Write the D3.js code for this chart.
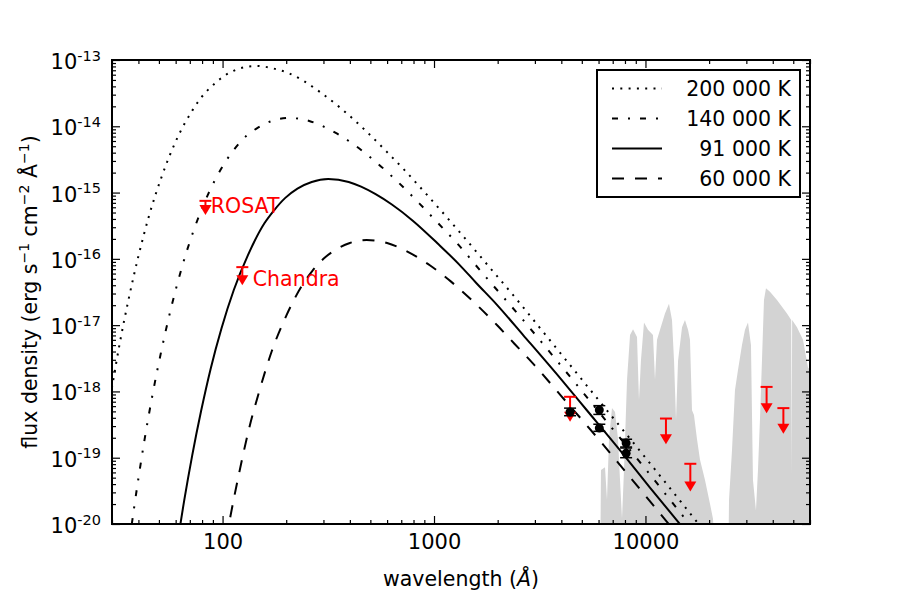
<!DOCTYPE html>
<html>
<head>
<meta charset="utf-8">
<script src="https://cdn.jsdelivr.net/npm/d3@7"></script>
<style>
  body { margin: 0; background: #fff; }
  svg text { font-family: "DejaVu Sans", sans-serif; }
</style>
</head>
<body>
<div id="chart"></div>
<script>
// blackbody curves (wavelength in Angstrom, log10 flux)
const wave200 = [24, 26.6, 30, 32.7, 36, 40, 45, 51.4, 60, 72, 80, 90, 103, 120, 144, 180, 206, 240, 288, 360, 480, 600, 720, 900, 1200, 1800, 2400, 3600, 4800, 7200, 10300, 14400, 20600];
const logF200 = [-20.06, -18.99, -17.94, -17.26, -16.60, -15.96, -15.34, -14.77, -14.23, -13.76, -13.55, -13.38, -13.23, -13.13, -13.09, -13.14, -13.20, -13.31, -13.48, -13.72, -14.08, -14.39, -14.65, -14.99, -15.44, -16.10, -16.57, -17.26, -17.75, -18.44, -19.05, -19.63, -20.25];

const wave140 = [34.3, 38.1, 42.8, 46.7, 51.4, 57.1, 64.2, 73.4, 85.6, 103, 114, 128, 147, 171, 206, 257, 294, 343, 411, 514, 685, 856, 1030, 1290, 1710, 2570, 3430, 5140, 6850, 10300, 14700, 20600];
const logF140 = [-20.84, -19.77, -18.72, -18.04, -17.38, -16.74, -16.13, -15.55, -15.02, -14.54, -14.34, -14.16, -14.02, -13.92, -13.875, -13.92, -13.99, -14.10, -14.26, -14.50, -14.86, -15.17, -15.44, -15.77, -16.23, -16.88, -17.36, -18.04, -18.53, -19.22, -19.84, -20.42];

const wave91 = [58.6, 65.9, 71.9, 79.1, 87.8, 98.8, 113, 132, 158, 176, 198, 226, 264, 316, 395, 452, 527, 632, 791, 1050, 1320, 1580, 1980, 2640, 3950, 5270, 7910, 10500, 15800];
const logF91 = [-20.69, -19.64, -18.96, -18.30, -17.66, -17.05, -16.47, -15.94, -15.46, -15.26, -15.08, -14.94, -14.84, -14.795, -14.84, -14.91, -15.02, -15.18, -15.42, -15.78, -16.09, -16.36, -16.69, -17.15, -17.80, -18.28, -18.96, -19.45, -20.14];

const wave60 = [88.8, 99.9, 109, 120, 133, 150, 171, 200, 240, 266, 300, 343, 400, 480, 600, 685, 799, 959, 1200, 1600, 2000, 2400, 3000, 4000, 6000, 7990, 12000, 16000];
const logF60 = [-21.61, -20.56, -19.88, -19.22, -18.58, -17.97, -17.39, -16.86, -16.38, -16.18, -16.00, -15.86, -15.76, -15.715, -15.76, -15.83, -15.94, -16.10, -16.34, -16.70, -17.01, -17.28, -17.61, -18.07, -18.72, -19.20, -19.88, -20.37];

const seriesLabels = ["200 000 K", "140 000 K", "91 000 K", "60 000 K"];

// grey spectrum in the background
const skyWave = [6095, 6162, 6437, 6579, 6723, 6946, 7178, 7417, 7580, 7746, 7917, 8181, 8453, 8735, 9120, 9320, 9526, 9842, 10280, 10855, 11095, 11340, 11720, 12370, 12920, 13350, 13650, 13950, 14260, 14890, 15380, 15900, 16240, 16600, 16960, 17530, 18110, 19120, 20200, 20860, 22030, 24570, 24840, 25660, 26510, 27390, 28610, 29560, 30540, 31550, 32240, 33310, 34050, 34790, 35560, 36350, 37150, 38800, 41880, 46700, 48900, 49100, 49400, 52070, 55590, 58700, 60000];
const skyFlux = [1e-21, 6.5e-20, 7.2e-20, 2.3e-20, 1.9e-19, 5.6e-19, 4.9e-19, 1.9e-19, 4.6e-20, 1.2e-20, 6.5e-20, 1.5e-18, 7.1e-18, 8.7e-18, 6.6e-18, 7.4e-19, 3.0e-18, 1.1e-17, 8.5e-18, 7.1e-18, 1.5e-18, 6.0e-18, 8.5e-18, 1.5e-17, 2.1e-17, 1.2e-17, 2.9e-18, 3.7e-19, 2.9e-18, 9.3e-18, 1.2e-17, 8.5e-18, 6.0e-18, 5.2e-19, 4.4e-19, 1.9e-19, 9.3e-20, 4.6e-20, 2.0e-20, 1.2e-20, 1e-21, 1e-21, 2.3e-20, 1.3e-19, 1.05e-18, 2.1e-18, 5.0e-18, 8.5e-18, 1.1e-17, 5.0e-18, 4.6e-20, 1.6e-20, 6.5e-20, 3.7e-19, 2.9e-18, 2.4e-17, 3.6e-17, 3.2e-17, 2.4e-17, 1.5e-17, 1.2e-17, 5.2e-20, 1.2e-17, 9.3e-18, 6.0e-18, 2.3e-18, 2.1e-18];

// optical detections with error bars
const detWave = [4400, 6050, 6050, 8100, 8100];
const detFlux = [4.9e-19, 5.25e-19, 2.8e-19, 1.66e-19, 1.17e-19];
const detLo = [4.3e-19, 4.5e-19, 2.5e-19, 1.4e-19, 1.0e-19];
const detHi = [5.6e-19, 6.1e-19, 3.2e-19, 1.9e-19, 1.45e-19];

// upper limits (cap value and arrow tip)
const limWave = [83, 124, 4400, 12500, 16300, 37400, 44900];
const limCap = [7.5e-16, 7.5e-17, 8.3e-19, 3.9e-19, 8.1e-20, 1.17e-18, 5.6e-19];
const limTip = [4.6e-16, 4.0e-17, 3.5e-19, 1.6e-19, 3.1e-20, 4.7e-19, 2.3e-19];

// annotations
const noteText = ["ROSAT", "Chandra"];
const noteWave = [88, 139];
const noteFlux = [4.9e-16, 3.9e-17];

const xMajor = [100, 1000, 10000];
const yExp = [-20, -19, -18, -17, -16, -15, -14, -13];

const W = 900, H = 600;
const L = 112, R = 810, T = 60, B = 524;

const svg = d3.select("#chart").append("svg")
    .attr("width", W)
    .attr("height", H);

const x = d3.scaleLog().domain([30, 60000]).range([L, R]);
const y = d3.scaleLog().domain([1e-20, 1e-13]).range([B, T]);

svg.append("clipPath").attr("id", "plotclip")
  .append("rect")
    .attr("x", L).attr("y", T)
    .attr("width", R - L).attr("height", B - T);

const plot = svg.append("g").attr("clip-path", "url(#plotclip)");

// grey spectrum
const sky = skyWave.map((w, i) => [w, skyFlux[i]]);
plot.append("path")
    .datum(sky)
    .attr("fill", "#d3d3d3")
    .attr("stroke", "none")
    .attr("d", d3.area()
        .x(d => x(d[0]))
        .y0(y(1e-21))
        .y1(d => y(d[1])));

// blackbody curves
const curves = [
  {wave: wave200, logF: logF200, dash: "2,6.3"},
  {wave: wave140, logF: logF140, dash: "6,10,2,10"},
  {wave: wave91, logF: logF91, dash: null},
  {wave: wave60, logF: logF60, dash: "12,11"}
];

const line = d3.line()
    .x(d => x(d[0]))
    .y(d => y(d[1]))
    .curve(d3.curveMonotoneX);

curves.forEach(c => {
  const pts = c.wave.map((w, i) => [w, Math.pow(10, c.logF[i])]);
  plot.append("path")
      .datum(pts)
      .attr("fill", "none")
      .attr("stroke", "black")
      .attr("stroke-width", 2)
      .attr("stroke-dasharray", c.dash)
      .attr("d", line);
});

// upper limits
const lims = limWave.map((w, i) => ({w: w, cap: limCap[i], tip: limTip[i]}));
const limG = plot.append("g").attr("fill", "red").attr("stroke", "red");
limG.selectAll(".stem").data(lims).enter().append("line")
    .attr("x1", d => x(d.w)).attr("x2", d => x(d.w))
    .attr("y1", d => y(d.cap)).attr("y2", d => y(d.tip) - 5)
    .attr("stroke-width", 2);
limG.selectAll(".cap").data(lims).enter().append("line")
    .attr("x1", d => x(d.w) - 6).attr("x2", d => x(d.w) + 6)
    .attr("y1", d => y(d.cap)).attr("y2", d => y(d.cap))
    .attr("stroke-width", 2);
limG.selectAll(".head").data(lims).enter().append("path")
    .attr("stroke", "none")
    .attr("d", d => {
      const cx = x(d.w), ty = y(d.tip);
      return `M${cx - 6},${ty - 10}L${cx + 6},${ty - 10}L${cx},${ty}Z`;
    });

// detections
const dets = detWave.map((w, i) => ({w: w, f: detFlux[i], lo: detLo[i], hi: detHi[i]}));
const detG = plot.append("g").attr("stroke", "black").attr("stroke-width", 1.5);
detG.selectAll(".bar").data(dets).enter().append("line")
    .attr("x1", d => x(d.w)).attr("x2", d => x(d.w))
    .attr("y1", d => y(d.lo)).attr("y2", d => y(d.hi));
detG.selectAll(".capLo").data(dets).enter().append("line")
    .attr("x1", d => x(d.w) - 6).attr("x2", d => x(d.w) + 6)
    .attr("y1", d => y(d.lo)).attr("y2", d => y(d.lo));
detG.selectAll(".capHi").data(dets).enter().append("line")
    .attr("x1", d => x(d.w) - 6).attr("x2", d => x(d.w) + 6)
    .attr("y1", d => y(d.hi)).attr("y2", d => y(d.hi));
detG.selectAll("circle").data(dets).enter().append("circle")
    .attr("cx", d => x(d.w)).attr("cy", d => y(d.f))
    .attr("r", 4.5)
    .attr("fill", "black")
    .attr("stroke", "none");

// annotations
svg.selectAll(".note").data(noteText).enter().append("text")
    .attr("x", (d, i) => x(noteWave[i]))
    .attr("y", (d, i) => y(noteFlux[i]))
    .attr("fill", "red")
    .style("font-size", "20.5px")
    .text(d => d);

// ticks (matplotlib classic: inward, all four sides)
const xMinor = [];
[10, 100, 1000, 10000].forEach(dec => {
  for (let k = 2; k <= 9; k++) {
    const v = k * dec;
    if (v >= 30 && v <= 60000) xMinor.push(v);
  }
});
const yMajor = yExp.map(e => Math.pow(10, e));
const yMinor = [];
yExp.slice(0, -1).forEach(e => {
  for (let k = 2; k <= 9; k++) yMinor.push(k * Math.pow(10, e));
});

function styleAxis(g) {
  g.select(".domain").remove();
  g.selectAll(".tick line").attr("stroke", "black").attr("stroke-width", 1.2);
  g.selectAll("text").style("font-size", "21px").attr("fill", "black");
}

svg.append("g").attr("transform", `translate(0,${B})`)
    .call(d3.axisBottom(x).tickValues(xMajor).tickSize(-8).tickPadding(10).tickFormat(d3.format("d")))
    .call(styleAxis);
svg.append("g").attr("transform", `translate(0,${B})`)
    .call(d3.axisBottom(x).tickValues(xMinor).tickSize(-4).tickFormat(""))
    .call(styleAxis);
svg.append("g").attr("transform", `translate(0,${T})`)
    .call(d3.axisTop(x).tickValues(xMajor).tickSize(-8).tickFormat(""))
    .call(styleAxis);
svg.append("g").attr("transform", `translate(0,${T})`)
    .call(d3.axisTop(x).tickValues(xMinor).tickSize(-4).tickFormat(""))
    .call(styleAxis);
svg.append("g").attr("transform", `translate(${L},0)`)
    .call(d3.axisLeft(y).tickValues(yMajor).tickSize(-8).tickFormat(""))
    .call(styleAxis);
svg.append("g").attr("transform", `translate(${L},0)`)
    .call(d3.axisLeft(y).tickValues(yMinor).tickSize(-4).tickFormat(""))
    .call(styleAxis);
svg.append("g").attr("transform", `translate(${R},0)`)
    .call(d3.axisRight(y).tickValues(yMajor).tickSize(-8).tickFormat(""))
    .call(styleAxis);
svg.append("g").attr("transform", `translate(${R},0)`)
    .call(d3.axisRight(y).tickValues(yMinor).tickSize(-4).tickFormat(""))
    .call(styleAxis);

// y tick labels 10^n
const yLab = svg.selectAll(".ylab").data(yExp).enter().append("text")
    .attr("x", 101)
    .attr("y", d => y(Math.pow(10, d)) + 9)
    .attr("text-anchor", "end")
    .style("font-size", "21px");
yLab.append("tspan").text("10");
yLab.append("tspan").attr("dy", -8.5).style("font-size", "14.5px").text(d => d);

// frame
svg.append("rect")
    .attr("x", L).attr("y", T)
    .attr("width", R - L).attr("height", B - T)
    .attr("fill", "none")
    .attr("stroke", "black")
    .attr("stroke-width", 2);

// axis labels
const xl = svg.append("text")
    .attr("x", (L + R) / 2).attr("y", 586)
    .attr("text-anchor", "middle")
    .style("font-size", "20.5px");
xl.append("tspan").text("wavelength (");
xl.append("tspan").style("font-style", "italic").text("Å");
xl.append("tspan").text(")");

const yl = svg.append("text")
    .attr("transform", `translate(37,${(T + B) / 2}) rotate(-90)`)
    .attr("text-anchor", "middle")
    .style("font-size", "20.5px");
yl.append("tspan").text("flux density (erg s");
yl.append("tspan").attr("dy", -8).style("font-size", "14px").text("−1");
yl.append("tspan").attr("dy", 8).text(" cm");
yl.append("tspan").attr("dy", -8).style("font-size", "14px").text("−2");
yl.append("tspan").attr("dy", 8).text(" Å");
yl.append("tspan").attr("dy", -8).style("font-size", "14px").text("−1");
yl.append("tspan").attr("dy", 8).text(")");

// legend
const lg = svg.append("g");
lg.append("rect")
    .attr("x", 597).attr("y", 70)
    .attr("width", 203).attr("height", 127)
    .attr("fill", "white")
    .attr("stroke", "black")
    .attr("stroke-width", 2);
seriesLabels.forEach((lab, i) => {
  const ry = 88.5 + i * 30;
  lg.append("line")
      .attr("x1", 612).attr("x2", 662)
      .attr("y1", ry).attr("y2", ry)
      .attr("stroke", "black")
      .attr("stroke-width", 2)
      .attr("stroke-dasharray", curves[i].dash);
  lg.append("text")
      .attr("x", 791).attr("y", ry + 7.3)
      .attr("text-anchor", "end")
      .style("font-size", "20.5px")
      .text(lab);
});
</script>
</body>
</html>
